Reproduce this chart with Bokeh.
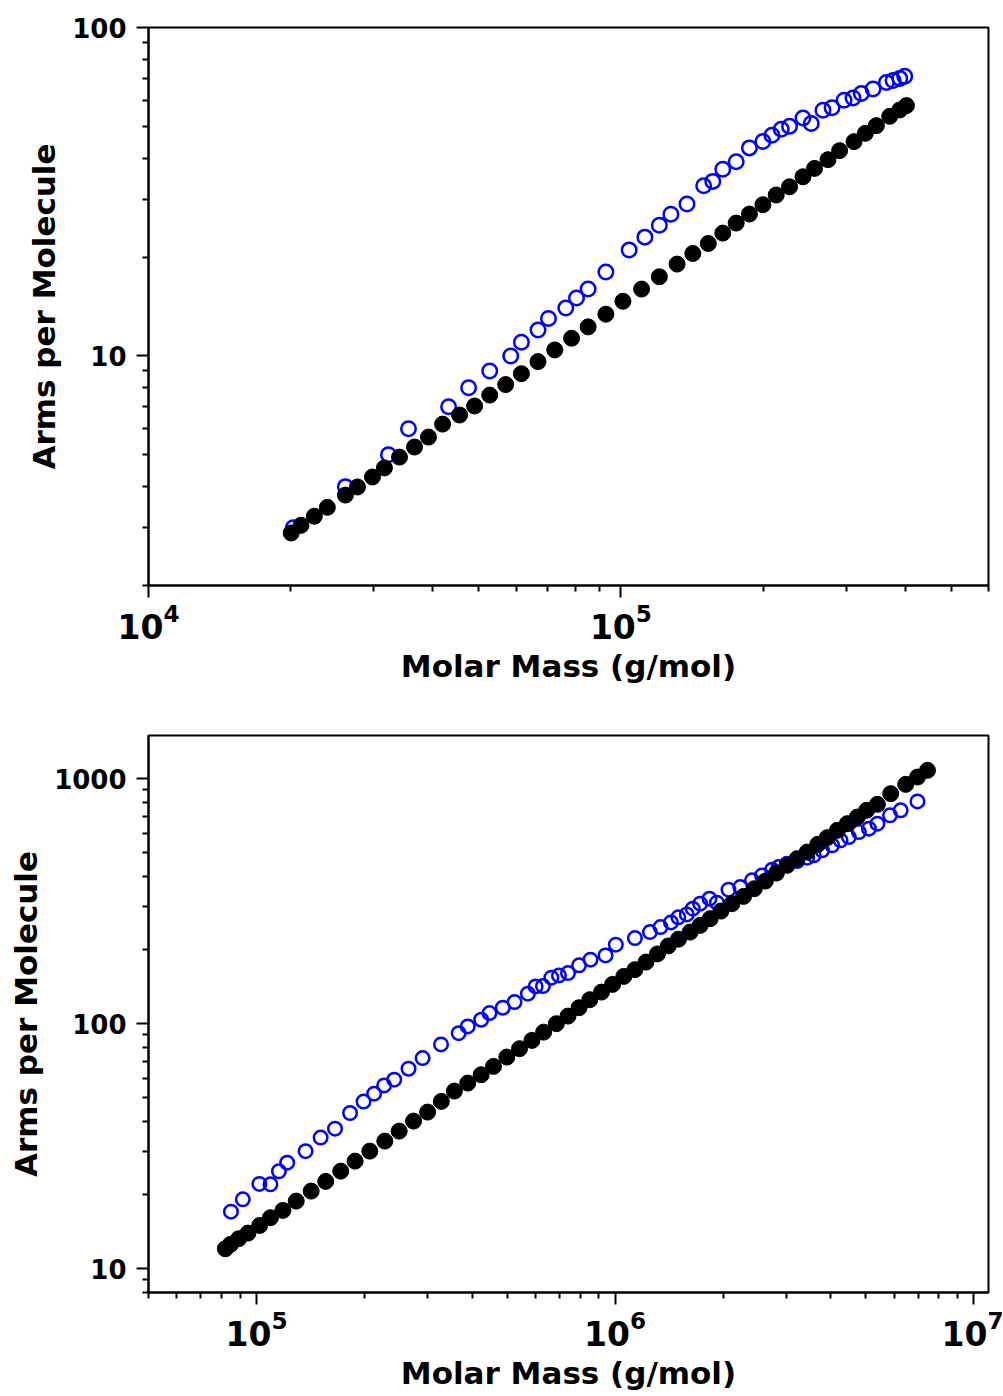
from bokeh.plotting import figure
from bokeh.layouts import column
from bokeh.models import FixedTicker, PrintfTickFormatter, LogTickFormatter, Range1d
from bokeh.embed import file_html
from bokeh.resources import INLINE

# ---------------- data: top panel ----------------
top_black_mass = [2.005e4, 2.103e4, 2.244e4, 2.391e4, 2.611e4, 2.769e4, 2.979e4, 3.158e4,
                  3.399e4, 3.657e4, 3.914e4, 4.193e4, 4.555e4, 4.901e4, 5.276e4, 5.703e4,
                  6.157e4, 6.676e4, 7.244e4, 7.862e4, 8.523e4, 9.294e4, 1.010e5, 1.106e5,
                  1.206e5, 1.315e5, 1.420e5, 1.531e5, 1.643e5, 1.754e5, 1.871e5, 1.998e5,
                  2.132e5, 2.275e5, 2.429e5, 2.570e5, 2.744e5, 2.904e5, 3.115e5, 3.292e5,
                  3.474e5, 3.707e5, 3.893e5, 4.022e5]
top_black_arms = [2.89, 3.05, 3.25, 3.46, 3.77, 3.99, 4.28, 4.56, 4.92, 5.28, 5.66, 6.20,
                  6.61, 7.04, 7.60, 8.18, 8.83, 9.61, 10.43, 11.32, 12.26, 13.40, 14.67,
                  15.98, 17.42, 19.04, 20.51, 22.00, 23.66, 25.38, 27.04, 28.87, 30.90,
                  32.74, 35.12, 37.24, 39.59, 42.17, 44.92, 47.62, 50.26, 53.65, 56.11, 57.83]
top_blue_mass = [2.025e4, 2.611e4, 3.221e4, 3.551e4, 4.318e4, 4.760e4, 5.276e4, 5.845e4,
                 6.157e4, 6.676e4, 7.025e4, 7.645e4, 8.054e4, 8.523e4, 9.294e4, 1.041e5,
                 1.124e5, 1.206e5, 1.276e5, 1.380e5, 1.497e5, 1.565e5, 1.643e5, 1.754e5,
                 1.871e5, 1.998e5, 2.088e5, 2.185e5, 2.275e5, 2.429e5, 2.529e5, 2.678e5,
                 2.799e5, 2.968e5, 3.100e5, 3.228e5, 3.418e5, 3.648e5, 3.769e5, 3.893e5, 3.988e5]
top_blue_arms = [3, 4, 5, 6, 7, 8, 9, 10, 11, 12, 13, 14, 15, 16, 18, 21, 23, 25, 27, 29,
                 33, 34, 37, 39, 43, 45, 47, 49, 50, 53, 51, 56, 57, 60, 61, 63, 65, 68, 69, 70, 71]

# ---------------- data: bottom panel ----------------
bot_black_mass = [8.19e4, 8.46e4, 8.92e4, 9.47e4, 1.021e5, 1.094e5, 1.185e5, 1.291e5, 1.421e5,
                  1.560e5, 1.718e5, 1.884e5, 2.071e5, 2.280e5, 2.500e5, 2.742e5, 3.001e5,
                  3.278e5, 3.564e5, 3.883e5, 4.233e5, 4.581e5, 4.991e5, 5.416e5, 5.864e5,
                  6.322e5, 6.861e5, 7.393e5, 7.936e5, 8.503e5, 9.168e5, 9.840e5, 1.058e6,
                  1.136e6, 1.220e6, 1.313e6, 1.408e6, 1.503e6, 1.619e6, 1.727e6, 1.842e6,
                  1.973e6, 2.118e6, 2.282e6, 2.445e6, 2.624e6, 2.818e6, 3.018e6, 3.219e6,
                  3.434e6, 3.675e6, 3.905e6, 4.166e6, 4.443e6, 4.738e6, 5.029e6, 5.390e6,
                  5.871e6, 6.465e6, 6.972e6, 7.435e6]
bot_black_arms = [12.07, 12.57, 13.26, 13.98, 15.02, 16.15, 17.30, 18.88, 20.74, 22.72, 25.02,
                  27.49, 30.20, 33.18, 36.44, 40.04, 43.58, 48.19, 53.08, 57.22, 61.91, 66.94,
                  73.07, 79.07, 85.46, 92.39, 100.0, 107.4, 116.2, 125.3, 134.6, 144.7, 156.0,
                  166.2, 178.4, 192.7, 207.7, 221.3, 236.5, 251.9, 268.3, 288.1, 308.9, 330.8,
                  355.6, 382.0, 411.9, 442.8, 471.6, 501.6, 539.3, 574.3, 615.2, 655.1, 697.1,
                  742.4, 785.5, 868.5, 947.7, 1015, 1081]
bot_blue_mass = [8.49e4, 9.16e4, 1.019e5, 1.094e5, 1.155e5, 1.218e5, 1.371e5, 1.510e5, 1.656e5,
                 1.824e5, 1.989e5, 2.129e5, 2.270e5, 2.422e5, 2.655e5, 2.906e5, 3.271e5,
                 3.664e5, 3.883e5, 4.233e5, 4.465e5, 4.864e5, 5.245e5, 5.713e5, 6.004e5,
                 6.294e5, 6.643e5, 6.976e5, 7.393e5, 7.936e5, 8.541e5, 9.406e5, 1.005e6,
                 1.136e6, 1.251e6, 1.339e6, 1.432e6, 1.501e6, 1.585e6, 1.647e6, 1.727e6,
                 1.834e6, 1.923e6, 2.072e6, 2.234e6, 2.409e6, 2.569e6, 2.741e6, 2.859e6,
                 3.018e6, 3.219e6, 3.434e6, 3.583e6, 3.782e6, 4.033e6, 4.255e6, 4.487e6,
                 4.786e6, 5.105e6, 5.390e6, 5.844e6, 6.259e6, 6.972e6]
bot_blue_arms = [17.1, 19.2, 22.2, 22.1, 25.0, 27.1, 30.2, 34.3, 37.3, 43.2, 48.1, 51.8, 56.0,
                 59.1, 65.5, 72.4, 82.3, 91.5, 97.5, 103.8, 110.5, 116.2, 122.5, 132.6, 142.0,
                 142.4, 154.1, 157.4, 160.9, 173.0, 182.5, 190.0, 210.1, 223.6, 236.5, 248.0,
                 259.1, 271.6, 279.3, 294.7, 308.9, 323.7, 311.8, 352.3, 361.0, 384.5, 402.9,
                 425.1, 435.7, 449.9, 461.0, 476.0, 486.4, 509.8, 534.4, 560.1, 577.7, 605.5,
                 625.2, 655.1, 708.5, 742.4, 807.7]

# ticks
top_x_major = [1e4, 1e5]
top_x_minor = [2e4, 3e4, 4e4, 5e4, 6e4, 7e4, 8e4, 9e4, 2e5, 3e5, 4e5, 5e5, 6e5]
top_y_major = [10, 100]
top_y_minor = [2, 3, 4, 5, 6, 7, 8, 9, 20, 30, 40, 50, 60, 70, 80, 90]
bot_x_major = [1e5, 1e6, 1e7]
bot_x_minor = [5e4, 6e4, 7e4, 8e4, 9e4, 2e5, 3e5, 4e5, 5e5, 6e5, 7e5, 8e5, 9e5,
               2e6, 3e6, 4e6, 5e6, 6e6, 7e6, 8e6, 9e6]
bot_y_major = [10, 100, 1000]
bot_y_minor = [8, 9, 20, 30, 40, 50, 60, 70, 80, 90, 200, 300, 400, 500, 600, 700, 800, 900]

X_LABEL = "Molar Mass (g/mol)"
Y_LABEL = "Arms per Molecule"
FONT = "DejaVu Sans"


def make_panel(xr, yr, xmaj, xmin, ymaj, ymin, frame_h, top_border, bottom_border,
               bx, by, ox, oy, bsize, osize):
    p = figure(x_axis_type="log", y_axis_type="log",
               x_range=Range1d(*xr), y_range=Range1d(*yr),
               frame_width=840, frame_height=frame_h,
               min_border_left=148, min_border_right=15,
               min_border_top=top_border, min_border_bottom=bottom_border,
               output_backend="svg", toolbar_location=None)
    p.xgrid.visible = False
    p.ygrid.visible = False
    p.outline_line_color = "black"
    p.outline_line_width = 2
    p.outline_line_alpha = 1.0
    p.background_fill_color = "white"
    p.border_fill_color = "white"

    p.xaxis.ticker = FixedTicker(ticks=xmaj, minor_ticks=xmin)
    p.yaxis.ticker = FixedTicker(ticks=ymaj, minor_ticks=ymin)
    p.yaxis.formatter = PrintfTickFormatter(format="%d")
    p.xaxis.formatter = LogTickFormatter()

    for ax in (p.xaxis, p.yaxis):
        ax.axis_line_color = "black"
        ax.axis_line_width = 2
        ax.major_tick_line_color = "black"
        ax.major_tick_line_width = 2
        ax.minor_tick_line_color = "black"
        ax.minor_tick_line_width = 2
        ax.major_tick_in = 0
        ax.major_tick_out = 12
        ax.minor_tick_in = 0
        ax.minor_tick_out = 6
        ax.major_label_text_font = FONT
        ax.major_label_text_font_style = "bold"
        ax.major_label_text_color = "black"
        ax.axis_label_text_font = FONT
        ax.axis_label_text_font_style = "bold"
        ax.axis_label_text_font_size = "31px"
        ax.axis_label_text_color = "black"

    p.yaxis.major_label_text_font_size = "26px"
    p.xaxis.major_label_text_font_size = "33px"
    p.xaxis.major_label_standoff = 5
    p.yaxis.major_label_standoff = 10
    p.xaxis.axis_label = X_LABEL
    p.yaxis.axis_label = Y_LABEL
    p.xaxis.axis_label_standoff = 6
    p.yaxis.axis_label_standoff = 7

    p.scatter(ox, oy, marker="circle", size=osize, fill_color=None,
              line_color="#0000FF", line_width=2.5)
    p.scatter(bx, by, marker="circle", size=bsize, fill_color="black",
              line_color="black", line_width=1)
    return p


p1 = make_panel((1e4, 6e5), (2, 100), top_x_major, top_x_minor, top_y_major, top_y_minor,
                558, 27, 115, top_black_mass, top_black_arms, top_blue_mass, top_blue_arms,
                16, 14.5)
p2 = make_panel((5e4, 1.1e7), (8, 1500), bot_x_major, bot_x_minor, bot_y_major, bot_y_minor,
                557, 35, 104, bot_black_mass, bot_black_arms, bot_blue_mass, bot_blue_arms,
                16, 13.5)

layout = column(p1, p2, spacing=0)
open("out.html", "w").write(file_html(layout, INLINE))
